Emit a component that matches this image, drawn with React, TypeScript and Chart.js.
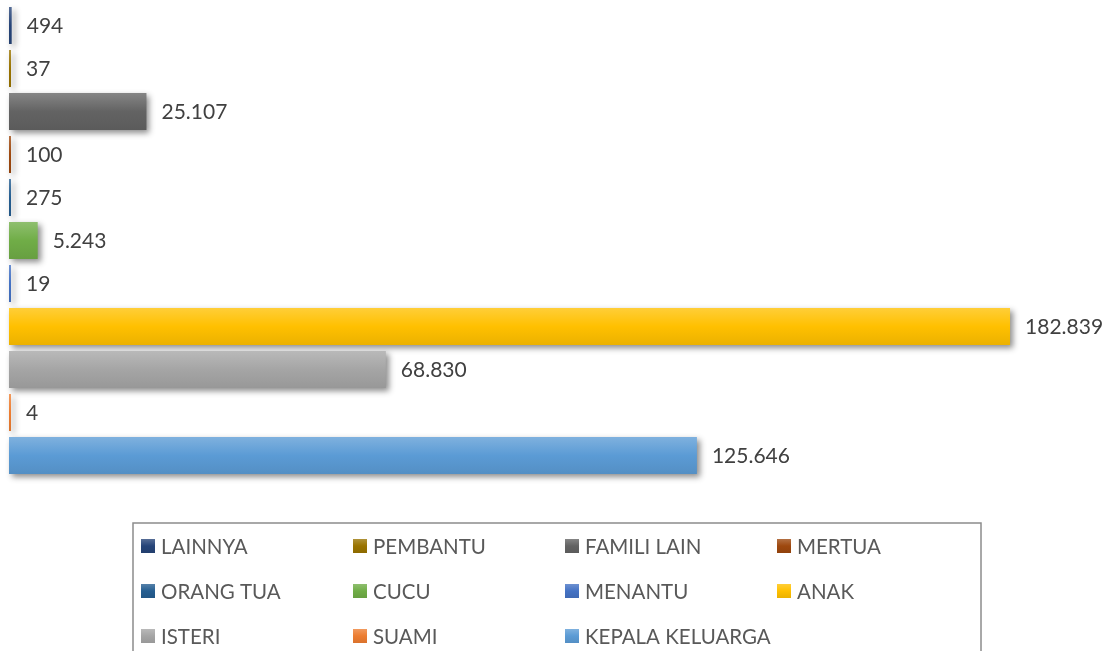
import React, { useEffect, useRef } from 'react';
import { Chart, registerables } from 'chart.js';

Chart.register(...registerables);

const categories = ['LAINNYA', 'PEMBANTU', 'FAMILI LAIN', 'MERTUA', 'ORANG TUA', 'CUCU', 'MENANTU', 'ANAK', 'ISTERI', 'SUAMI', 'KEPALA KELUARGA'];
const values = [494, 37, 25107, 100, 275, 5243, 19, 182839, 68830, 4, 125646];
const colors = ['#264478', '#997300', '#636363', '#9E480E', '#255E91', '#70AD47', '#4472C4', '#FFC000', '#A5A5A5', '#ED7D31', '#5B9BD5'];
const axisMax = 200000;

const FONT = 'Lato, "Open Sans", sans-serif';

function hexToRgb(hex: string) {
  const h = hex.replace('#', '');
  return [parseInt(h.slice(0, 2), 16), parseInt(h.slice(2, 4), 16), parseInt(h.slice(4, 6), 16)];
}
function mix(hex: string, amt: number) {
  const [r, g, b] = hexToRgb(hex);
  const f = (c: number) => Math.round(amt >= 0 ? c + (255 - c) * amt : c * (1 + amt));
  return `rgb(${f(r)},${f(g)},${f(b)})`;
}
function fmt(v: number) {
  return String(v).replace(/\B(?=(\d{3})+(?!\d))/g, '.');
}
function makeGradient(ctx: CanvasRenderingContext2D, color: string, top: number, bottom: number) {
  const g = ctx.createLinearGradient(0, top, 0, bottom);
  g.addColorStop(0, mix(color, 0.22));
  g.addColorStop(0.5, mix(color, 0));
  g.addColorStop(1, mix(color, -0.08));
  return g;
}

const BAR_PCT = 37 / 43;

const shadowPlugin = {
  id: 'barShadow',
  beforeDatasetDraw(chart: any) {
    const c = chart.ctx;
    c.save();
    c.shadowColor = 'rgba(0,0,0,0.45)';
    c.shadowBlur = 6;
    c.shadowOffsetX = 3;
    c.shadowOffsetY = 3;
  },
  afterDatasetDraw(chart: any) {
    chart.ctx.restore();
  },
};

const labelPlugin = {
  id: 'valueLabels',
  afterDatasetsDraw(chart: any) {
    const c = chart.ctx;
    const meta = chart.getDatasetMeta(0);
    c.save();
    c.font = `21px ${FONT}`;
    c.fillStyle = '#404040';
    c.textAlign = 'left';
    c.textBaseline = 'middle';
    meta.data.forEach((el: any, i: number) => {
      c.fillText(fmt(values[i]), el.x + 15, el.y + 1);
    });
    c.restore();
  },
};

const legendPlugin = {
  id: 'boxLegend',
  afterDraw(chart: any) {
    const c = chart.ctx;
    c.save();
    c.strokeStyle = '#8c8c8c';
    c.lineWidth = 1.5;
    c.strokeRect(133, 523, 848, 200);
    c.font = `20.5px ${FONT}`;
    c.textAlign = 'left';
    c.textBaseline = 'middle';
    categories.forEach((name, i) => {
      const col = i % 4;
      const row = Math.floor(i / 4);
      const x = 141 + col * 212;
      const yc = 546 + row * 45;
      c.fillStyle = makeGradient(c, colors[i], yc - 7, yc + 7);
      c.fillRect(x, yc - 7, 14, 14);
      c.fillStyle = '#595959';
      c.fillText(name, x + 20, yc + 1);
    });
    c.restore();
  },
};

export default function App() {
  const ref = useRef<HTMLCanvasElement | null>(null);

  useEffect(() => {
    document.body.style.margin = '0';
    const canvas = ref.current;
    if (!canvas) return;
    const chart = new Chart(canvas, {
      type: 'bar',
      data: {
        labels: categories,
        datasets: [
          {
            data: values,
            clip: false as any,
            borderWidth: 0,
            minBarLength: 2,
            categoryPercentage: 1,
            barPercentage: BAR_PCT,
            backgroundColor: (ctx: any) => {
              const ch = ctx.chart;
              const i = ctx.dataIndex ?? 0;
              const y = ch.scales && ch.scales.y;
              if (!y || !ch.chartArea) return colors[i];
              const center = y.getPixelForValue(i);
              const half = (y.height / categories.length) * BAR_PCT / 2;
              return makeGradient(ch.ctx, colors[i], center - half, center + half);
            },
          },
        ],
      },
      options: {
        indexAxis: 'y',
        responsive: false,
        animation: false,
        layout: { padding: { left: 9, right: 12, top: 4, bottom: 174 } },
        scales: {
          x: { display: false, min: 0, max: axisMax },
          y: { display: false, grid: { display: false } },
        },
        plugins: {
          legend: { display: false },
          tooltip: { enabled: false },
        },
      },
      plugins: [shadowPlugin, labelPlugin, legendPlugin],
    });
    return () => chart.destroy();
  }, []);

  return (
    <div style={{ width: 1116, height: 651, overflow: 'hidden' }}>
      <canvas ref={ref} width={1116} height={651} style={{ display: 'block' }} />
    </div>
  );
}
